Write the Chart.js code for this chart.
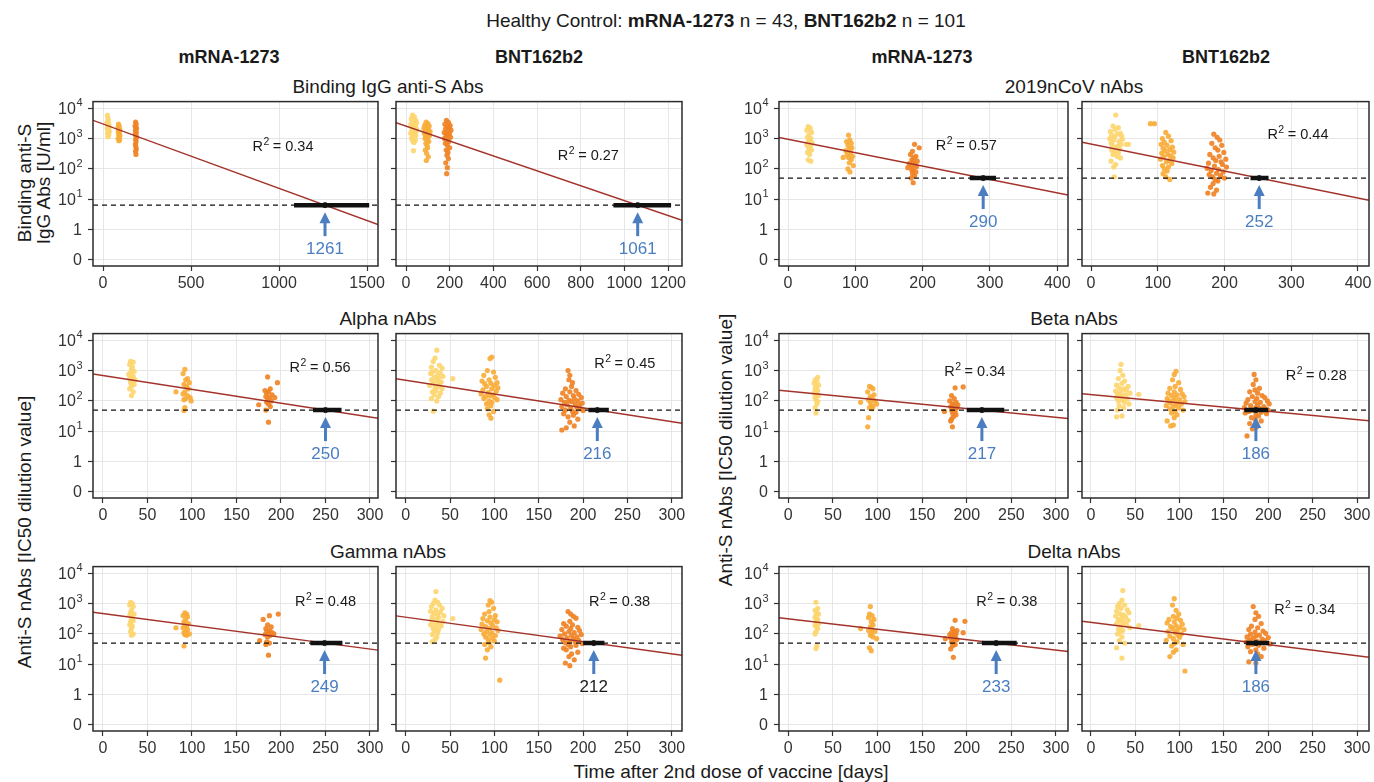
<!DOCTYPE html>
<html><head><meta charset="utf-8">
<script src="https://cdn.jsdelivr.net/npm/chart.js@4.4.1/dist/chart.umd.min.js"></script>
<style>
html,body{margin:0;padding:0;background:#fff;}
body{width:1374px;height:782px;position:relative;overflow:hidden;font-family:"Liberation Sans",Arial,Helvetica,sans-serif;color:#1a1a1a;}
.t{position:absolute;white-space:nowrap;transform:translate(-50%,-50%);line-height:1;}
.rot{transform:translate(-50%,-50%) rotate(-90deg);}
canvas{position:absolute;}
</style></head><body>
<div class="t" style="left:726px;top:20px;font-size:19px">Healthy Control: <b>mRNA-1273</b> n = 43, <b>BNT162b2</b> n = 101</div>
<div class="t" style="left:229px;top:57px;font-size:18px;font-weight:bold">mRNA-1273</div>
<div class="t" style="left:539px;top:57px;font-size:18px;font-weight:bold">BNT162b2</div>
<div class="t" style="left:922px;top:57px;font-size:18px;font-weight:bold">mRNA-1273</div>
<div class="t" style="left:1226px;top:57px;font-size:18px;font-weight:bold">BNT162b2</div>
<div class="t" style="left:388px;top:86px;font-size:19px">Binding IgG anti-S Abs</div>
<div class="t" style="left:1074px;top:86px;font-size:19px">2019nCoV nAbs</div>
<div class="t" style="left:388px;top:318px;font-size:19px">Alpha nAbs</div>
<div class="t" style="left:1074px;top:318px;font-size:19px">Beta nAbs</div>
<div class="t" style="left:388px;top:551px;font-size:19px">Gamma nAbs</div>
<div class="t" style="left:1074px;top:551px;font-size:19px">Delta nAbs</div>
<div class="t" style="left:731px;top:771px;font-size:19px">Time after 2nd dose of vaccine [days]</div>
<div class="t rot" style="left:24px;top:183px;font-size:19px">Binding anti-S</div>
<div class="t rot" style="left:43px;top:183px;font-size:19px">IgG Abs [U/ml]</div>
<div class="t rot" style="left:24px;top:532px;font-size:19px">Anti-S nAbs [IC50 dilution value]</div>
<div class="t rot" style="left:725px;top:450px;font-size:19px">Anti-S nAbs [IC50 dilution value]</div>
<script>
// ---------- axis ticks ----------
const xTicksBindMrna = [0,500,1000,1500];
const xTicksBindBnt = [0,200,400,600,800,1000,1200];
const xTicksWt = [0,100,200,300,400];
const xTicksVar = [0,50,100,150,200,250,300];
const yTickValues = [0,1,10,100,1000,10000];
const yTickText = [['0',''],['1',''],['10','1'],['10','2'],['10','3'],['10','4']];

// ---------- data: [day, titer] ----------
const bindMrna1 = [[25,5800],[28,4600],[30,3900],[22,3400],[33,3000],[27,2700],[35,2400],[24,2200],[31,2000],[29,1800],[36,1700],[26,1500],[32,1400],[30,1250],[28,1150]];
const bindMrna2 = [[88,3000],[92,2600],[85,2300],[95,2000],[90,1900],[87,1700],[93,1550],[89,1400],[96,1250],[91,1100],[86,1000],[94,900],[90,850]];
const bindMrna3 = [[185,3500],[188,3000],[182,2600],[190,2200],[186,2000],[184,1800],[189,1600],[183,1400],[187,1250],[191,1100],[185,950],[188,800],[184,650],[186,550],[189,450],[185,380],[187,300]];
const bindBnt1 = [[30,6000],[38,5200],[24,4500],[44,4000],[31,3600],[48,3300],[22,3000],[36,2800],[42,2600],[27,2400],[46,2200],[33,2000],[50,1900],[26,1800],[40,1600],[21,1500],[35,1400],[45,1300],[29,1200],[39,1100],[25,1000],[43,900],[32,800],[37,750],[34,400]];
const bindBnt2 = [[92,3500],[100,3100],[86,2800],[106,2600],[95,2400],[82,2200],[103,2000],[89,1900],[97,1800],[110,1700],[84,1500],[93,1400],[108,1300],[90,1200],[101,1100],[87,1000],[98,900],[104,800],[91,700],[96,600],[99,500],[88,420],[94,330],[102,250],[93,190]];
const bindBnt3 = [[185,4000],[195,3400],[178,3000],[202,2700],[188,2500],[198,2300],[181,2100],[206,1900],[191,1800],[175,1600],[199,1500],[186,1400],[193,1300],[183,1200],[204,1100],[176,1000],[190,900],[196,800],[180,700],[189,600],[200,500],[184,420],[192,350],[187,280],[194,220],[182,160],[189,110],[186,70]];
const wtMrna1 = [[30,2500],[33,2200],[28,1900],[35,1600],[31,1300],[29,1100],[34,1000],[32,900],[30,800],[36,700],[28,620],[33,550],[31,480],[35,420],[29,350],[32,300],[30,200],[34,180]];
const wtMrna2 = [[90,1300],[92,900],[87,800],[94,700],[89,600],[95,500],[91,450],[86,400],[93,350],[88,300],[96,260],[90,240],[82,240],[94,200],[91,160],[97,130],[89,100],[92,80]];
const wtMrna3 = [[188,650],[195,500],[185,380],[182,300],[190,260],[187,230],[184,200],[192,180],[186,170],[180,150],[189,140],[183,130],[191,120],[178,110],[186,100],[184,90],[190,80],[185,70],[188,60],[183,50],[186,35]];
const wtBnt1 = [[37,6000],[33,2600],[41,2300],[36,2000],[29,1700],[44,1500],[39,1400],[31,1300],[46,1200],[35,1100],[28,1000],[47,950],[34,900],[42,800],[30,720],[45,650],[53,650],[56,650],[32,600],[40,560],[38,500],[43,450],[31,420],[36,380],[41,340],[33,300],[39,260],[44,230],[30,180],[37,140],[34,115],[35,55]];
const wtBnt2 = [[89,3100],[95,3100],[112,1600],[116,1200],[107,1000],[120,850],[110,750],[105,650],[114,600],[122,520],[108,480],[118,430],[111,400],[124,360],[106,330],[115,300],[119,270],[109,250],[123,230],[104,210],[117,190],[113,170],[121,150],[107,130],[116,115],[110,100],[114,85],[108,70],[112,55],[118,45]];
const wtBnt3 = [[184,1400],[189,1100],[193,900],[181,700],[196,600],[186,500],[190,420],[199,350],[178,300],[192,260],[183,230],[202,210],[187,190],[195,170],[176,155],[197,140],[185,125],[203,115],[174,105],[191,95],[180,88],[198,80],[188,72],[177,65],[194,60],[182,55],[200,50],[186,45],[190,40],[183,33],[179,25],[188,20],[175,16],[184,15]];
const alphaMrna1 = [[31,2000],[34,1900],[30,1600],[33,1300],[32,1100],[35,950],[31,850],[29,750],[34,650],[32,600],[30,550],[36,500],[33,450],[31,400],[35,350],[32,300],[30,250],[34,200],[32,150]];
const alphaMrna2 = [[92,1100],[90,800],[95,550],[93,500],[97,400],[91,350],[94,300],[96,250],[82,200],[92,200],[90,170],[95,150],[98,130],[93,120],[91,110],[99,100],[92,60],[91,48]];
const alphaMrna3 = [[185,620],[196,400],[188,250],[182,220],[186,200],[184,180],[190,160],[183,140],[187,130],[193,130],[185,110],[189,100],[184,90],[186,80],[175,75],[188,65],[183,50],[186,20]];
const alphaBnt1 = [[35,4700],[33,2600],[31,2000],[38,1500],[29,1300],[41,1200],[34,1000],[30,900],[39,850],[28,800],[36,700],[42,650],[32,600],[37,550],[53,540],[29,500],[35,450],[40,420],[31,380],[38,350],[27,320],[36,300],[33,270],[41,250],[34,220],[30,200],[39,180],[32,160],[37,140],[29,120],[35,100],[31,46]];
const alphaBnt2 = [[97,2800],[95,2500],[92,1000],[99,900],[88,700],[101,600],[94,500],[86,450],[103,400],[96,380],[89,370],[100,320],[91,300],[104,270],[97,250],[87,230],[102,210],[93,190],[85,170],[98,160],[95,150],[90,140],[100,130],[88,120],[103,110],[94,100],[97,90],[91,80],[96,70],[92,55],[99,45],[94,35],[96,27]];
const alphaBnt3 = [[183,1000],[185,700],[184,500],[188,400],[187,300],[180,250],[192,220],[185,200],[177,180],[195,165],[189,150],[181,140],[198,130],[190,120],[175,110],[184,105],[194,100],[187,95],[179,90],[199,85],[191,80],[182,75],[196,70],[176,65],[193,62],[186,58],[197,55],[180,50],[200,48],[188,45],[192,42],[178,38],[189,34],[183,30],[194,25],[185,20],[190,15],[181,13],[176,11]];
const betaMrna1 = [[33,600],[30,500],[32,450],[29,380],[34,330],[31,290],[30,250],[33,220],[31,200],[29,180],[32,160],[34,150],[30,130],[31,110],[33,95],[32,80],[30,60],[31,40]];
const betaMrna2 = [[91,300],[93,280],[95,250],[89,200],[96,160],[92,140],[81,90],[94,120],[90,110],[97,100],[92,90],[99,80],[93,70],[95,65],[91,60],[94,55],[90,28],[89,14]];
const betaMrna3 = [[187,270],[196,290],[183,150],[186,120],[181,100],[188,90],[184,80],[190,75],[185,70],[182,65],[189,60],[175,45],[186,55],[183,50],[187,45],[184,40],[188,35],[185,30],[183,25],[182,22],[184,14]];
const betaBnt1 = [[34,1600],[33,1000],[36,700],[31,550],[38,450],[35,380],[29,330],[42,300],[32,270],[37,250],[40,230],[28,210],[34,200],[44,180],[30,170],[39,160],[54,165],[33,150],[36,140],[29,130],[41,120],[35,110],[31,100],[38,90],[43,80],[32,70],[37,60],[30,50],[29,30],[35,32]];
const betaBnt2 = [[96,950],[94,750],[92,500],[99,400],[95,300],[89,260],[101,240],[94,200],[87,180],[103,170],[97,160],[91,150],[105,140],[95,130],[86,120],[100,110],[93,105],[88,100],[106,95],[98,90],[90,85],[102,80],[96,75],[85,70],[93,65],[99,60],[89,55],[104,50],[95,45],[91,40],[97,35],[94,28],[86,22],[90,15],[93,16]];
const betaBnt3 = [[184,750],[186,500],[183,350],[190,260],[185,230],[179,200],[188,180],[193,150],[182,140],[196,130],[187,120],[177,110],[199,100],[185,95],[191,90],[175,85],[201,80],[188,75],[180,70],[195,65],[186,62],[173,60],[190,57],[197,54],[181,51],[200,50],[184,48],[178,45],[192,42],[174,40],[198,38],[186,35],[189,32],[181,28],[185,25],[192,22],[179,18],[187,14],[182,12],[176,7]];
const gammaMrna1 = [[31,1100],[33,1000],[30,900],[34,800],[32,600],[31,500],[35,450],[30,400],[33,350],[32,300],[34,270],[31,240],[30,200],[33,180],[32,150],[31,120],[34,100],[32,90]];
const gammaMrna2 = [[92,500],[94,450],[90,400],[95,370],[93,300],[91,250],[96,220],[92,200],[94,180],[90,160],[82,160],[95,140],[93,120],[91,110],[97,100],[92,95],[94,90],[91,40]];
const gammaMrna3 = [[197,450],[187,400],[180,300],[185,200],[189,170],[183,150],[187,130],[184,120],[190,110],[186,100],[182,95],[188,90],[192,100],[185,80],[176,60],[184,55],[187,50],[183,45],[186,20]];
const gammaBnt1 = [[34,2500],[33,1300],[36,1100],[31,1000],[38,900],[29,800],[41,700],[34,620],[28,560],[39,520],[32,480],[36,440],[43,400],[30,370],[53,320],[37,340],[35,310],[29,280],[42,260],[33,240],[38,220],[28,200],[40,185],[34,170],[31,155],[37,140],[32,125],[36,110],[30,95],[35,80],[33,65],[30,56]];
const gammaBnt2 = [[95,1250],[97,1100],[93,900],[99,700],[94,550],[89,450],[101,400],[95,360],[87,320],[100,290],[92,270],[103,250],[96,230],[86,210],[98,190],[90,175],[102,160],[94,150],[85,140],[104,130],[91,120],[97,110],[88,100],[95,95],[101,88],[90,80],[98,72],[93,65],[100,58],[94,52],[89,45],[96,38],[92,30],[90,16],[106,3]];
const gammaBnt3 = [[183,550],[186,450],[189,380],[192,330],[185,260],[178,220],[188,200],[181,180],[194,165],[186,150],[176,140],[196,130],[184,120],[190,110],[179,100],[198,95],[187,90],[174,85],[193,80],[182,75],[189,70],[177,65],[195,62],[185,58],[191,55],[180,52],[199,48],[183,45],[192,42],[186,38],[178,34],[181,30],[194,25],[187,22],[184,18],[190,14],[180,11],[185,9]];
const deltaMrna1 = [[31,1100],[33,700],[30,600],[32,500],[34,450],[31,400],[30,350],[33,300],[32,270],[31,240],[34,220],[30,190],[32,170],[33,150],[31,120],[30,100],[32,40],[31,33]];
const deltaMrna2 = [[92,800],[91,450],[94,400],[90,350],[96,300],[93,250],[95,200],[92,170],[81,150],[94,140],[90,130],[97,120],[93,100],[99,70],[92,90],[95,80],[91,35],[93,28]];
const deltaMrna3 = [[187,280],[198,260],[184,150],[189,130],[186,120],[183,110],[188,100],[181,95],[185,90],[196,110],[187,85],[184,80],[176,70],[182,75],[186,70],[189,65],[183,55],[185,50],[187,45],[184,40],[182,32],[185,17]];
const deltaBnt1 = [[36,2700],[35,1300],[32,1000],[38,900],[30,800],[34,700],[41,620],[29,560],[43,500],[33,460],[37,420],[54,190],[28,390],[39,360],[35,330],[31,300],[42,280],[33,260],[37,240],[29,220],[40,200],[34,180],[44,160],[31,145],[36,130],[33,115],[30,100],[35,80],[32,60],[38,50],[29,35],[35,16]];
const deltaBnt2 = [[94,1450],[92,900],[96,600],[99,450],[93,380],[97,330],[88,300],[101,280],[94,250],[86,230],[103,210],[96,190],[90,175],[100,160],[92,150],[105,140],[97,130],[87,120],[95,110],[102,100],[98,92],[89,85],[100,78],[93,70],[85,62],[97,55],[94,48],[104,45],[91,40],[96,30],[93,25],[89,18],[106,6]];
const deltaBnt3 = [[183,800],[186,500],[189,380],[185,300],[192,220],[181,180],[188,160],[178,140],[194,125],[185,115],[197,105],[180,98],[190,92],[186,86],[176,80],[200,76],[183,72],[193,68],[179,64],[196,60],[187,57],[175,54],[191,51],[184,48],[202,47],[182,45],[189,42],[177,38],[195,34],[186,30],[180,26],[188,22],[192,18],[178,12],[186,11]];

// ---------- fit / threshold estimates per panel ----------
const fitAtDay0 = [3020, 2570, 955, 660, 690, 480, 210, 162, 470, 355, 316, 240];
const thresholds = [6.4, 6.4, 50, 50, 50, 50, 50, 50, 50, 50, 50, 50];
const crossDays = [1261, 1061, 290, 252, 250, 216, 217, 186, 249, 212, 233, 186];
const ciLow = [1085, 950, 270, 239, 236, 206, 200, 173, 233, 200, 217, 175];
const ciHigh = [1512, 1214, 309, 266, 268, 229, 242, 200, 269, 224, 256, 201];
const r2Values = ['0.34','0.27','0.57','0.44','0.56','0.45','0.34','0.28','0.48','0.38','0.38','0.34'];

const panelData = [
  [bindMrna1,bindMrna2,bindMrna3],[bindBnt1,bindBnt2,bindBnt3],
  [wtMrna1,wtMrna2,wtMrna3],[wtBnt1,wtBnt2,wtBnt3],
  [alphaMrna1,alphaMrna2,alphaMrna3],[alphaBnt1,alphaBnt2,alphaBnt3],
  [betaMrna1,betaMrna2,betaMrna3],[betaBnt1,betaBnt2,betaBnt3],
  [gammaMrna1,gammaMrna2,gammaMrna3],[gammaBnt1,gammaBnt2,gammaBnt3],
  [deltaMrna1,deltaMrna2,deltaMrna3],[deltaBnt1,deltaBnt2,deltaBnt3]
];

// ---------- layout / style ----------
const cols = [{l:93,r:378},{l:396,r:682},{l:779,r:1068},{l:1082,r:1369}];
const rows = [{t:101,b:266},{t:333,b:498},{t:566,b:731}];
const layout = [
  {row:0,col:0,xr:[-57,1562],xt:xTicksBindMrna,showY:true, r2at:[1022,600]},
  {row:0,col:1,xr:[-46,1264],xt:xTicksBindBnt,showY:false, r2at:[835,316]},
  {row:0,col:2,xr:[-13.4,416],xt:xTicksWt,showY:true, r2at:[265,676]},
  {row:0,col:3,xr:[-13.5,416.5],xt:xTicksWt,showY:false, r2at:[310,1510]},
  {row:1,col:0,xr:[-11.2,309],xt:xTicksVar,showY:true, r2at:[244,1445]},
  {row:1,col:1,xr:[-11,311.5],xt:xTicksVar,showY:false, r2at:[247,1860]},
  {row:1,col:2,xr:[-10.4,313.5],xt:xTicksVar,showY:true, r2at:[209,1070]},
  {row:1,col:3,xr:[-10,313.5],xt:xTicksVar,showY:false, r2at:[254,776]},
  {row:2,col:0,xr:[-11.2,309],xt:xTicksVar,showY:true, r2at:[250,1350]},
  {row:2,col:1,xr:[-11,311.5],xt:xTicksVar,showY:false, r2at:[241,1350], labelColor:'#1a1a1a'},
  {row:2,col:2,xr:[-10.4,313.5],xt:xTicksVar,showY:true, r2at:[245,1350]},
  {row:2,col:3,xr:[-10,313.5],xt:xTicksVar,showY:false, r2at:[241,725]}
];
const visitColors = ['rgba(253,214,112,0.92)','rgba(249,173,57,0.92)','rgba(240,131,38,0.92)'];
const FONT = '"Liberation Sans", Arial, sans-serif';
const ARROW = '#4A7EC1';

function ty(v){ return v <= 0 ? -1 : Math.log10(v); }

function makePanel(i){
  const L = layout[i], c = cols[L.col], r = rows[L.row];
  const YW=64, PT=12, PR=24, XH=34;
  const W = c.r - c.l + YW + PR, H = r.b - r.t + PT + XH;
  const cv = document.createElement('canvas');
  cv.width = W; cv.height = H;
  cv.style.left = (c.l - YW) + 'px'; cv.style.top = (r.t - PT) + 'px';
  cv.style.width = W + 'px'; cv.style.height = H + 'px';
  document.body.appendChild(cv);

  const xMin = L.xr[0], xMax = L.xr[1];
  const a = ty(fitAtDay0[i]), T = ty(thresholds[i]);
  const b = (T - a) / crossDays[i];

  const datasets = [
    {data:[{x:ciLow[i],y:T},{x:ciHigh[i],y:T}], showLine:true, borderColor:'#111', borderWidth:4.5, pointRadius:0, borderCapStyle:'butt'},
    {data:[{x:crossDays[i],y:T}], pointRadius:2.6, pointBackgroundColor:'#666', pointBorderColor:'#222', pointBorderWidth:1},
    {data:[{x:xMin,y:a+b*xMin},{x:xMax,y:a+b*xMax}], showLine:true, borderColor:'#A3322A', borderWidth:1.4, pointRadius:0},
    {data:[{x:xMin,y:T},{x:xMax,y:T}], showLine:true, borderColor:'#111', borderWidth:1.3, borderDash:[5,4], pointRadius:0},
  ];
  const groups = panelData[i];
  for (let k = 2; k >= 0; k--) {
    datasets.push({data: groups[k].map(p => ({x:p[0], y:ty(p[1])})), pointRadius:2.6,
      pointBackgroundColor: visitColors[k], pointBorderWidth:0, showLine:false});
  }

  const annot = {
    id:'annot'+i,
    afterDraw(chart){
      const ctx = chart.ctx, ca = chart.chartArea, xs = chart.scales.x, ys = chart.scales.y;
      ctx.save();
      ctx.strokeStyle = '#2b2b2b'; ctx.lineWidth = 1.5;
      ctx.strokeRect(ca.left, ca.top, ca.right - ca.left, ca.bottom - ca.top);
      if (L.showY) {
        yTickValues.forEach((v, j) => {
          const y = ys.getPixelForValue(ty(v));
          const base = yTickText[j][0], ex = yTickText[j][1];
          ctx.fillStyle = '#333'; ctx.textBaseline = 'middle'; ctx.textAlign = 'left';
          ctx.font = '11px ' + FONT; const we = ex ? ctx.measureText(ex).width : 0;
          ctx.font = '16px ' + FONT; const wb = ctx.measureText(base).width;
          const xr = ca.left - 11;
          ctx.fillText(base, xr - we - wb, y + 1);
          if (ex) { ctx.font = '11px ' + FONT; ctx.fillText(ex, xr - we + 0.5, y - 5); }
        });
      }
      const rx = xs.getPixelForValue(L.r2at[0]), ry = ys.getPixelForValue(ty(L.r2at[1]));
      ctx.fillStyle = '#1a1a1a'; ctx.textBaseline = 'middle'; ctx.textAlign = 'left';
      ctx.font = '14.5px ' + FONT; const w1 = ctx.measureText('R').width;
      const rest = ' = ' + r2Values[i]; const w3 = ctx.measureText(rest).width;
      ctx.font = '10.5px ' + FONT; const w2 = ctx.measureText('2').width;
      let sx = rx - (w1 + w2 + w3) / 2;
      ctx.font = '14.5px ' + FONT; ctx.fillText('R', sx, ry + 2);
      ctx.font = '10.5px ' + FONT; ctx.fillText('2', sx + w1 + 0.5, ry - 3);
      ctx.font = '14.5px ' + FONT; ctx.fillText(rest, sx + w1 + w2, ry + 2);
      const ax = xs.getPixelForValue(crossDays[i]), ay = ys.getPixelForValue(T);
      ctx.strokeStyle = ARROW; ctx.fillStyle = ARROW; ctx.lineWidth = 3;
      ctx.beginPath(); ctx.moveTo(ax, ay + 31); ctx.lineTo(ax, ay + 16); ctx.stroke();
      ctx.beginPath(); ctx.moveTo(ax, ay + 7); ctx.lineTo(ax - 5.5, ay + 18); ctx.lineTo(ax + 5.5, ay + 18); ctx.closePath(); ctx.fill();
      ctx.fillStyle = L.labelColor || ARROW; ctx.textAlign = 'center'; ctx.textBaseline = 'middle';
      ctx.font = '17px ' + FONT; ctx.fillText(String(crossDays[i]), ax, ay + 44);
      ctx.restore();
    }
  };

  new Chart(cv, {
    type:'scatter',
    data:{datasets},
    options:{
      responsive:false, animation:false, events:[], devicePixelRatio:1,
      layout:{padding:{top:PT, right:PR, left:0, bottom:0}},
      plugins:{legend:{display:false}, tooltip:{enabled:false}},
      scales:{
        x:{type:'linear', min:xMin, max:xMax,
          afterBuildTicks: s => { s.ticks = L.xt.map(v => ({value:v})); },
          afterFit: s => { s.height = XH; },
          grid:{color:'#e6e6e6', lineWidth:1, tickColor:'#333', tickLength:5, tickWidth:1.2},
          border:{display:false},
          ticks:{callback: v => String(v), font:{size:16, family:FONT}, color:'#333', padding:3, maxRotation:0, autoSkip:false}
        },
        y:{type:'linear', min:-1.2, max:4.22,
          afterBuildTicks: s => { s.ticks = yTickValues.map(v => ({value:ty(v)})); },
          afterFit: s => { s.width = YW; },
          grid:{color:'#e6e6e6', lineWidth:1, tickColor:'#333', tickLength:5, tickWidth:1.2},
          border:{display:false},
          ticks:{callback:() => '', font:{size:16}}
        }
      }
    },
    plugins:[annot]
  });
}
for (let i = 0; i < 12; i++) makePanel(i);
</script>
</body></html>
